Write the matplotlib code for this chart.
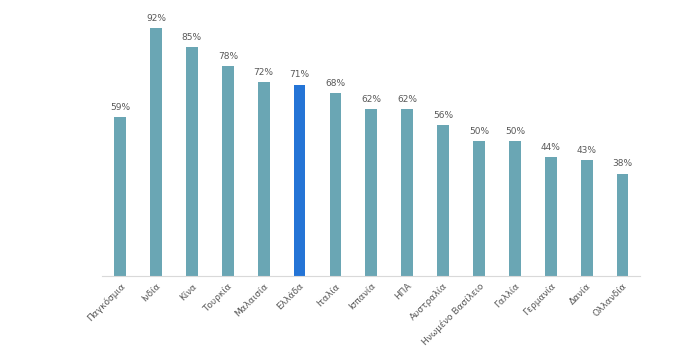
import matplotlib
matplotlib.use("Agg")
import matplotlib.pyplot as plt

countries = ["Παγκόσμια", "Ινδία", "Κίνα", "Τουρκία", "Μαλαισία", "Ελλάδα",
             "Ιταλία", "Ισπανία", "ΗΠΑ", "Αυστραλία", "Ηνωμένο Βασίλειο",
             "Γαλλία", "Γερμανία", "Δανία", "Ολλανδία"]
values = [59, 92, 85, 78, 72, 71, 68, 62, 62, 56, 50, 50, 44, 43, 38]
highlight = "Ελλάδα"

base_color = "#6aa6b4"
hi_color = "#2474d6"
colors = [hi_color if c == highlight else base_color for c in countries]

fig = plt.figure(figsize=(7, 3.56), dpi=100)
ax = fig.add_axes([0.146, 0.225, 0.769, 0.756])

x = range(len(countries))
bars = ax.bar(x, values, width=0.33, color=colors)

for b, v in zip(bars, values):
    ax.text(b.get_x() + b.get_width() / 2, v + 2, f"{v}%", ha="center",
            va="bottom", fontsize=6.5, color="#595959")

ax.set_xlim(-0.5, len(countries) - 0.5)
ax.set_ylim(0, 100)
ax.set_xticks(list(x))
ax.set_xticklabels(countries, rotation=45, ha="right", rotation_mode="anchor",
                   fontsize=6.5, color="#595959")
ax.tick_params(axis="x", length=0, pad=4)
ax.set_yticks([])
for s in ["top", "right", "left"]:
    ax.spines[s].set_visible(False)
ax.spines["bottom"].set_color("#d9d9d9")
ax.spines["bottom"].set_linewidth(0.8)

fig.savefig("out.png", dpi=100)
